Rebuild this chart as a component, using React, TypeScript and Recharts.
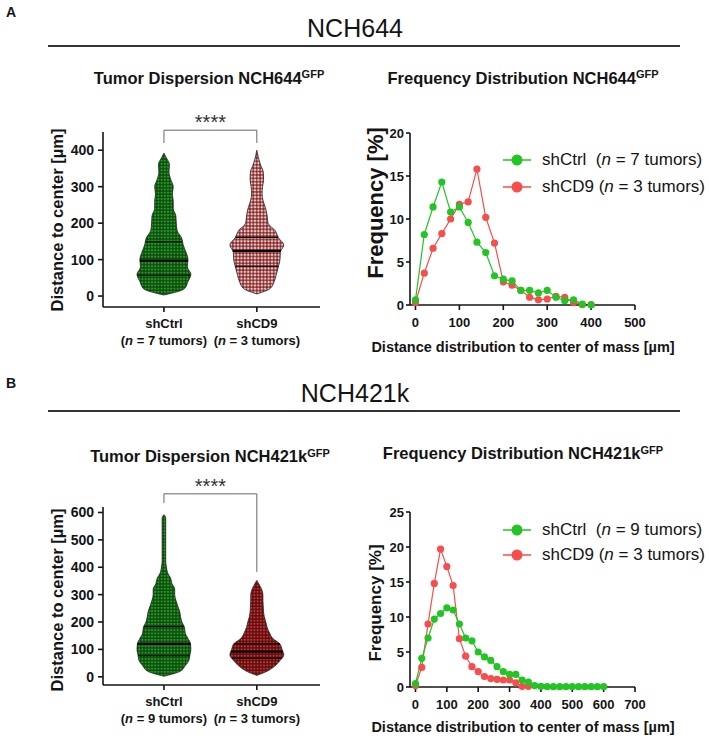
import React from "react";
import {
  ComposedChart,
  LineChart,
  Line,
  Area,
  XAxis,
  YAxis,
  ReferenceLine,
  Legend,
} from "recharts";

const FONT = '"Liberation Sans", Arial, Helvetica, sans-serif';
const INK = "#141414";
const GREEN = "#24c424";
const RED = "#f64d4d";
const HALF_WIDTH = 0.29; // widest violin half-width, in category units

const groups = ["shCtrl", "shCD9"];

// NCH644: frequency [%] per 20 µm bin
const binsA = [0, 20, 40, 60, 80, 100, 120, 140, 160, 180, 200, 220, 240, 260, 280, 300, 320, 340, 360, 380, 400];
const ctrlA = [0.6, 8.2, 11.4, 14.3, 10.8, 11.4, 9.6, 7.3, 6.1, 3.4, 3.0, 2.8, 1.7, 1.7, 1.4, 1.7, 0.9, 0.5, 0.6, 0.1, 0.0];
const cd9A = [0.3, 3.7, 6.6, 8.3, 10.0, 11.7, 12.0, 15.8, 10.2, 7.2, 2.7, 2.3, 1.7, 0.9, 0.6, 0.7, 1.0, 0.9, 0.3, 0.05, 0.05];
const ctrlSpanA = [3, 392];
const cd9SpanA = [6, 400];
const ctrlQuartA = [57, 97, 149];
const cd9QuartA = [82, 124, 161];
const bracketA = [455, 420, 420];
const tumorsA = [7, 3];

// NCH421k
const binsB = [0, 20, 40, 60, 80, 100, 120, 140, 160, 180, 200, 220, 240, 260, 280, 300, 320, 340, 360, 380, 400, 420, 440, 460, 480, 500, 520, 540, 560, 580, 600];
const ctrlB = [0.5, 4.1, 7.0, 9.7, 10.5, 11.3, 11.0, 9.0, 7.0, 6.6, 5.0, 4.3, 3.8, 2.9, 2.2, 1.8, 1.8, 1.0, 0.7, 0.2, 0.1, 0.05, 0.05, 0.05, 0.05, 0.05, 0.05, 0.05, 0.05, 0.05, 0.05];
const cd9B = [0.2, 2.8, 9.0, 14.8, 19.7, 17.2, 14.5, 6.9, 4.4, 2.9, 2.2, 1.5, 1.2, 1.1, 1.0, 1.0, 0.6, 0.1, 0.1];
const ctrlSpanB = [2, 592];
const cd9SpanB = [5, 352];
const ctrlQuartB = [77, 120, 183];
const cd9QuartB = [68, 92, 120];
const bracketB = [668, 634, 383];
const tumorsB = [9, 3];

const violinTicksA = [0, 100, 200, 300, 400];
const violinTicksB = [0, 100, 200, 300, 400, 500, 600];
const freqTicksA = [0, 5, 10, 15, 20];
const freqTicksB = [0, 5, 10, 15, 20, 25];
const distTicksA = [0, 100, 200, 300, 400, 500];
const distTicksB = [0, 100, 200, 300, 400, 500, 600, 700];

const axisStyle = { stroke: INK, strokeWidth: 1.6 };

// violin half-widths from the binned frequencies
function violinOutline(bins: number[], freq: number[], span: number[]) {
  const peak = Math.max(...freq);
  const pts = [{ d: span[0], w: 0 }];
  bins.forEach((d, i) => {
    if (i < freq.length && d > span[0] && d < span[1]) {
      pts.push({ d, w: HALF_WIDTH * Math.sqrt(freq[i] / peak) });
    }
  });
  pts.push({ d: span[1], w: 0 });
  return pts;
}

function widthAt(pts: { d: number; w: number }[], v: number) {
  for (let i = 1; i < pts.length; i++) {
    if (v <= pts[i].d) {
      const a = pts[i - 1];
      const b = pts[i];
      return a.w + ((b.w - a.w) * (v - a.d)) / (b.d - a.d);
    }
  }
  return 0;
}

const Sup = ({ children }: any) => (
  <span style={{ fontSize: 11, position: "relative", top: -5.5 }}>{children}</span>
);

function Txt({ cx, cy, size, bold, children }: any) {
  const lh = Math.round(size * 1.2);
  return (
    <div
      style={{
        position: "absolute",
        left: cx,
        top: cy - lh / 2,
        transform: "translateX(-50%)",
        fontSize: size,
        lineHeight: `${lh}px`,
        fontWeight: bold ? 700 : 400,
        whiteSpace: "nowrap",
      }}
    >
      {children}
    </div>
  );
}

function VTitle({ cx, cy, size, text }: any) {
  return (
    <text
      x={cx}
      y={cy}
      transform={`rotate(-90, ${cx}, ${cy})`}
      textAnchor="middle"
      dominantBaseline="central"
      fontSize={size}
      fontWeight={700}
      fontFamily={FONT}
      fill={INK}
    >
      {text}
    </text>
  );
}

function HTitle({ cx, cy, size, text }: any) {
  return (
    <text x={cx} y={cy} textAnchor="middle" dominantBaseline="central" fontSize={size} fontWeight={700} fontFamily={FONT} fill={INK}>
      {text}
    </text>
  );
}

function GroupTick(props: any) {
  const { x, y, payload, tumors } = props;
  const i = Math.round(payload.value) - 1;
  const common = { x, textAnchor: "middle" as const, fontFamily: FONT, fontWeight: 700, fontSize: 13, fill: INK };
  return (
    <g>
      <text {...common} y={y + 13.5}>{groups[i]}</text>
      <text {...common} y={y + 30.5}>
        (<tspan fontStyle="italic">n</tspan> = {tumors[i]} tumors)
      </text>
    </g>
  );
}

function SeriesKey({ tumors, rowH }: any) {
  const items = [
    { color: GREEN, name: "shCtrl\u00a0\u00a0", n: tumors[0] },
    { color: RED, name: "shCD9\u00a0", n: tumors[1] },
  ];
  return (
    <div style={{ fontFamily: FONT, fontSize: 17, color: INK }}>
      {items.map((it) => (
        <div key={it.name} style={{ display: "flex", alignItems: "center", height: rowH, whiteSpace: "nowrap" }}>
          <svg width={28} height={12} style={{ flex: "none" }}>
            <line x1={0} y1={6} x2={28} y2={6} stroke={it.color} strokeWidth={1.5} />
            <circle cx={14} cy={6} r={5.5} fill={it.color} />
          </svg>
          <span style={{ marginLeft: 11 }}>
            {it.name}(<i>n</i> = {it.n} tumors)
          </span>
        </div>
      ))}
    </div>
  );
}

function ViolinChart({ id, bins, ctrl, cd9, ctrlSpan, cd9Span, ctrlQuart, cd9Quart, bracket, tumors, yMax, yTicks, height, top, xh, sparse }: any) {
  const vc = violinOutline(bins, ctrl, ctrlSpan);
  const vd = violinOutline(bins, cd9, cd9Span);
  const ctrlRows = vc.map((p) => ({ d: p.d, v: [1 - p.w, 1 + p.w] }));
  const cd9Rows = vd.map((p) => ({ d: p.d, v: [2 - p.w, 2 + p.w] }));

  const quartLines = (pts: any, center: number, quart: number[], key: string) =>
    quart.map((q, i) => {
      const w = widthAt(pts, q);
      return (
        <ReferenceLine
          key={key + i}
          segment={[{ x: center - w, y: q }, { x: center + w, y: q }]}
          stroke="#000"
          strokeWidth={i === 1 ? 2.2 : 1.1}
          ifOverflow="visible"
        />
      );
    });

  const bracketStyle = { stroke: "#666", strokeWidth: 1, ifOverflow: "visible" as const };

  return (
    <ComposedChart layout="vertical" width={360} height={height} margin={{ top, right: 40, bottom: 0, left: 0 }}>
      <defs>
        <pattern id={`${id}g`} width={3.2} height={3.2} patternUnits="userSpaceOnUse">
          <rect width={3.2} height={3.2} fill="#0b4a0b" />
          <circle cx={1.6} cy={1.6} r={1.1} fill="#2c9c2c" />
        </pattern>
        {sparse ? (
          <pattern id={`${id}r`} width={3.4} height={3.4} patternUnits="userSpaceOnUse">
            <rect width={3.4} height={3.4} fill="#f3e2e2" />
            <circle cx={1.7} cy={1.7} r={1.3} fill="#a81f1f" stroke="#4a0808" strokeWidth={0.4} />
          </pattern>
        ) : (
          <pattern id={`${id}r`} width={3.2} height={3.2} patternUnits="userSpaceOnUse">
            <rect width={3.2} height={3.2} fill="#5a0c0c" />
            <circle cx={1.6} cy={1.6} r={1.1} fill="#c23636" />
          </pattern>
        )}
      </defs>
      <XAxis
        type="number"
        domain={[0.344, 2.68]}
        ticks={[1, 2]}
        height={xh}
        tickSize={5}
        tickMargin={2}
        axisLine={axisStyle}
        tickLine={axisStyle}
        tick={<GroupTick tumors={tumors} />}
      />
      <YAxis
        type="number"
        dataKey="d"
        reversed
        domain={[-30, yMax]}
        ticks={yTicks}
        width={103}
        tickSize={5}
        tickMargin={4}
        axisLine={axisStyle}
        tickLine={axisStyle}
        tick={{ fontSize: 14, fontWeight: 700, fill: INK, fontFamily: FONT }}
        label={<VTitle cx={57} cy={125} size={16.5} text="Distance to center [µm]" />}
      />
      <Area
        data={ctrlRows}
        dataKey="v"
        type="monotone"
        fill={`url(#${id}g)`}
        fillOpacity={1}
        stroke="#142414"
        strokeWidth={0.8}
        isAnimationActive={false}
      />
      <Area
        data={cd9Rows}
        dataKey="v"
        type="monotone"
        fill={`url(#${id}r)`}
        fillOpacity={1}
        stroke="#222"
        strokeWidth={0.8}
        isAnimationActive={false}
      />
      {quartLines(vc, 1, ctrlQuart, "qc")}
      {quartLines(vd, 2, cd9Quart, "qd")}
      <ReferenceLine
        segment={[{ x: 1, y: bracket[0] }, { x: 2, y: bracket[0] }]}
        {...bracketStyle}
        label={{ value: "****", position: "top", offset: 1, fontSize: 20, fill: "#333", fontFamily: FONT }}
      />
      <ReferenceLine segment={[{ x: 1, y: bracket[0] }, { x: 1, y: bracket[1] }]} {...bracketStyle} />
      <ReferenceLine segment={[{ x: 2, y: bracket[0] }, { x: 2, y: bracket[2] }]} {...bracketStyle} />
    </ComposedChart>
  );
}

function FreqChart({ bins, ctrl, cd9, xMin, xMax, xTicks, yMax, yTicks, tumors, height, top, xh, yTitleSize, yTitleY, xTitleY, keyTop, rowH }: any) {
  const data = bins.map((d: number, i: number) => ({ d, ctrl: ctrl[i], cd9: cd9[i] }));
  const tickFont = { fontSize: 13, fontWeight: 700, fill: INK, fontFamily: FONT };
  return (
    <LineChart width={349} height={height} data={data} margin={{ top, right: 74, bottom: 0, left: 0 }}>
      <XAxis
        type="number"
        dataKey="d"
        domain={[xMin, xMax]}
        ticks={xTicks}
        height={xh}
        tickSize={5}
        tickMargin={8}
        axisLine={axisStyle}
        tickLine={axisStyle}
        tick={tickFont}
        label={<HTitle cx={163} cy={xTitleY} size={14.5} text="Distance distribution to center of mass [µm]" />}
      />
      <YAxis
        type="number"
        domain={[0, yMax]}
        ticks={yTicks}
        width={50}
        tickSize={4}
        tickMargin={2}
        axisLine={axisStyle}
        tickLine={axisStyle}
        tick={tickFont}
        label={<VTitle cx={15} cy={yTitleY} size={yTitleSize} text="Frequency [%]" />}
      />
      <Line
        dataKey="cd9"
        stroke={RED}
        strokeWidth={1.2}
        dot={{ r: 3.6, fill: RED, stroke: RED, strokeWidth: 0 }}
        activeDot={false}
        isAnimationActive={false}
      />
      <Line
        dataKey="ctrl"
        stroke={GREEN}
        strokeWidth={1.2}
        dot={{ r: 3.6, fill: GREEN, stroke: GREEN, strokeWidth: 0 }}
        activeDot={false}
        isAnimationActive={false}
      />
      <Legend
        layout="vertical"
        align="center"
        verticalAlign="middle"
        wrapperStyle={{ left: 143, top: keyTop, width: 205 }}
        content={() => <SeriesKey tumors={tumors} rowH={rowH} />}
      />
    </LineChart>
  );
}

export default function App() {
  return (
    <div
      style={{
        position: "absolute",
        left: 0,
        top: 0,
        width: 709,
        height: 738,
        background: "#fff",
        fontFamily: FONT,
        color: INK,
        overflow: "hidden",
      }}
    >
      {/* panel A header */}
      <Txt cx={11} cy={12.5} size={14} bold>A</Txt>
      <Txt cx={355} cy={28} size={25}>NCH644</Txt>
      <div style={{ position: "absolute", left: 48, top: 45, width: 632, height: 1.5, background: "#333" }} />
      <Txt cx={209} cy={77.5} size={16.5} bold>
        Tumor Dispersion NCH644<Sup>GFP</Sup>
      </Txt>
      <Txt cx={523} cy={77.5} size={16.5} bold>
        Frequency Distribution NCH644<Sup>GFP</Sup>
      </Txt>
      <div style={{ position: "absolute", left: 0, top: 95 }}>
        <ViolinChart
          id="va"
          bins={binsA}
          ctrl={ctrlA}
          cd9={cd9A}
          ctrlSpan={ctrlSpanA}
          cd9Span={cd9SpanA}
          ctrlQuart={ctrlQuartA}
          cd9Quart={cd9QuartA}
          bracket={bracketA}
          tumors={tumorsA}
          yMax={450}
          yTicks={violinTicksA}
          height={260}
          top={37}
          xh={48}
          sparse
        />
      </div>
      <div style={{ position: "absolute", left: 360, top: 100 }}>
        <FreqChart
          bins={binsA}
          ctrl={ctrlA}
          cd9={cd9A}
          xMin={-12.5}
          xMax={500}
          xTicks={distTicksA}
          yMax={20}
          yTicks={freqTicksA}
          tumors={tumorsA}
          height={262}
          top={33}
          xh={57}
          yTitleSize={22}
          yTitleY={103}
          xTitleY={247}
          keyTop={46.5}
          rowH={27}
        />
      </div>

      {/* panel B header */}
      <Txt cx={11} cy={383} size={14} bold>B</Txt>
      <Txt cx={355} cy={393} size={25}>NCH421k</Txt>
      <div style={{ position: "absolute", left: 48, top: 410, width: 632, height: 1.5, background: "#333" }} />
      <Txt cx={210} cy={456} size={16.5} bold>
        Tumor Dispersion NCH421k<Sup>GFP</Sup>
      </Txt>
      <Txt cx={523} cy={453} size={16.5} bold>
        Frequency Distribution NCH421k<Sup>GFP</Sup>
      </Txt>
      <div style={{ position: "absolute", left: 0, top: 475 }}>
        <ViolinChart
          id="vb"
          bins={binsB}
          ctrl={ctrlB}
          cd9={cd9B}
          ctrlSpan={ctrlSpanB}
          cd9Span={cd9SpanB}
          ctrlQuart={ctrlQuartB}
          cd9Quart={cd9QuartB}
          bracket={bracketB}
          tumors={tumorsB}
          yMax={620}
          yTicks={violinTicksB}
          height={263}
          top={32}
          xh={53}
        />
      </div>
      <div style={{ position: "absolute", left: 360, top: 470 }}>
        <FreqChart
          bins={binsB}
          ctrl={ctrlB}
          cd9={cd9B}
          xMin={-17.5}
          xMax={700}
          xTicks={distTicksB}
          yMax={25}
          yTicks={freqTicksB}
          tumors={tumorsB}
          height={268}
          top={42}
          xh={51}
          yTitleSize={17}
          yTitleY={133}
          xTitleY={257}
          keyTop={47.5}
          rowH={25}
        />
      </div>
    </div>
  );
}
